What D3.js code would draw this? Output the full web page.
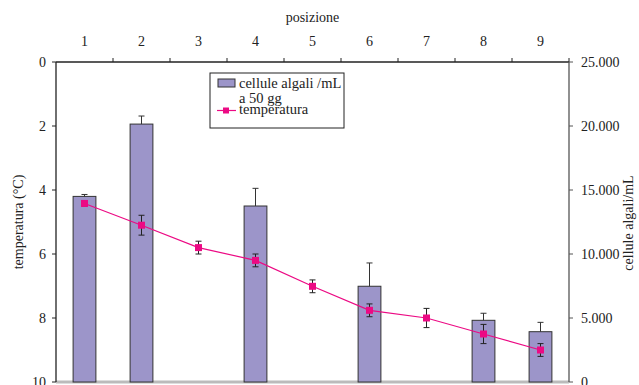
<!DOCTYPE html>
<html>
<head>
<meta charset="utf-8">
<style>
  body { margin: 0; background: #fff; }
</style>
</head>
<body>
<script src="https://cdn.jsdelivr.net/npm/d3@7"></script>
<script>
// data
var positions = [1, 2, 3, 4, 5, 6, 7, 8, 9];
var cellPos = [1, 2, 4, 6, 8, 9];
var cellValues = [14500, 20150, 13750, 7480, 4820, 3930];
var cellErr = [150, 630, 1380, 1820, 550, 730];
var tempValues = [4.42, 5.10, 5.80, 6.20, 7.01, 7.76, 8.0, 8.5, 9.0];
var tempErr = [0.08, 0.31, 0.2, 0.2, 0.2, 0.2, 0.3, 0.3, 0.2];
var tempTicks = [0, 2, 4, 6, 8, 10];
var cellTicks = [0, 5000, 10000, 15000, 20000, 25000];

var W = 639, H = 385;
var margin = {top: 62, left: 56, right: 70, bottom: 3};
var width = W - margin.left - margin.right;
var height = H - margin.top - margin.bottom;

var barColor = "#9c95c9", lineColor = "#ec0a84";
var serif = "'Liberation Serif', 'Times New Roman', 'DejaVu Serif', serif";

var svg = d3.select("body").append("svg")
  .attr("width", W).attr("height", H)
  .attr("font-family", serif).attr("fill", "#222");
var chart = svg.append("g")
  .attr("transform", "translate(" + margin.left + "," + margin.top + ")");

var x = d3.scaleBand().domain(positions).range([0, width]);
var yT = d3.scaleLinear().domain([0, 10]).range([0, height]);
var yC = d3.scaleLinear().domain([0, 25000]).range([height, 0]);

var fmt = function(d) { return d3.format(",")(d).replace(/,/g, "."); };

// bottom line (grey)
chart.append("line")
  .attr("x1", 0).attr("x2", width).attr("y1", height).attr("y2", height)
  .attr("stroke", "#bbb").attr("stroke-width", 3);

// bars
var bw = x.bandwidth() * 0.4;
var bars = chart.append("g");
cellPos.forEach(function(p, i) {
  var cx = x(p) + x.bandwidth() / 2;
  bars.append("rect")
    .attr("x", cx - bw / 2).attr("y", yC(cellValues[i]))
    .attr("width", bw).attr("height", height - yC(cellValues[i]))
    .attr("fill", barColor).attr("stroke", "#333").attr("stroke-width", 1);
  var top = yC(cellValues[i] + cellErr[i]);
  bars.append("line").attr("x1", cx).attr("x2", cx)
    .attr("y1", yC(cellValues[i])).attr("y2", top).attr("stroke", "#333");
  bars.append("line").attr("x1", cx - 3).attr("x2", cx + 3)
    .attr("y1", top).attr("y2", top).attr("stroke", "#333");
});

// temperature line
var cxT = function(d, i) { return x(positions[i]) + x.bandwidth() / 2; };
chart.append("path")
  .datum(tempValues)
  .attr("fill", "none").attr("stroke", lineColor).attr("stroke-width", 1.2)
  .attr("d", d3.line().x(cxT).y(function(d) { return yT(d); }));

var eg = chart.append("g").attr("stroke", "#222").attr("stroke-width", 1);
tempValues.forEach(function(v, i) {
  var cx = cxT(v, i), y1 = yT(v - tempErr[i]), y2 = yT(v + tempErr[i]);
  eg.append("line").attr("x1", cx).attr("x2", cx).attr("y1", y1).attr("y2", y2);
  eg.append("line").attr("x1", cx - 3).attr("x2", cx + 3).attr("y1", y1).attr("y2", y1);
  eg.append("line").attr("x1", cx - 3).attr("x2", cx + 3).attr("y1", y2).attr("y2", y2);
});
chart.selectAll(".pt").data(tempValues).enter().append("rect")
  .attr("x", function(d, i) { return cxT(d, i) - 3.5; })
  .attr("y", function(d) { return yT(d) - 3.5; })
  .attr("width", 7).attr("height", 7).attr("fill", lineColor);

// axes
var axisTop = chart.append("g");
axisTop.append("line").attr("x1", 0).attr("x2", width).attr("y1", 0).attr("y2", 0)
  .attr("stroke", "#222").attr("stroke-width", 1.3);
positions.forEach(function(p) {
  if (p > 1) axisTop.append("line").attr("x1", x(p)).attr("x2", x(p))
    .attr("y1", 0).attr("y2", -4).attr("stroke", "#222");
  axisTop.append("text").attr("x", x(p) + x.bandwidth() / 2).attr("y", -16)
    .attr("text-anchor", "middle").attr("font-size", 14).text(p);
});
axisTop.append("line").attr("x1", width).attr("x2", width).attr("y1", 0).attr("y2", -4).attr("stroke", "#222");

var axisL = chart.append("g");
axisL.append("line").attr("x1", 0).attr("x2", 0).attr("y1", 0).attr("y2", height)
  .attr("stroke", "#222").attr("stroke-width", 1.3);
tempTicks.forEach(function(t) {
  axisL.append("line").attr("x1", -4).attr("x2", 0).attr("y1", yT(t)).attr("y2", yT(t)).attr("stroke", "#222");
  axisL.append("text").attr("x", -10).attr("y", yT(t)).attr("dy", "0.35em")
    .attr("text-anchor", "end").attr("font-size", 14).text(t);
});

var axisR = chart.append("g").attr("transform", "translate(" + width + ",0)");
axisR.append("line").attr("x1", 0).attr("x2", 0).attr("y1", 0).attr("y2", height)
  .attr("stroke", "#555").attr("stroke-width", 1.3);
cellTicks.forEach(function(t) {
  axisR.append("line").attr("x1", 0).attr("x2", 4).attr("y1", yC(t)).attr("y2", yC(t)).attr("stroke", "#555");
  axisR.append("text").attr("x", 12).attr("y", yC(t)).attr("dy", "0.35em")
    .attr("font-size", 14).text(fmt(t));
});

// titles
svg.append("text").attr("x", margin.left + width / 2).attr("y", 22)
  .attr("text-anchor", "middle").attr("font-size", 14).text("posizione");
svg.append("text").attr("transform", "translate(23,222) rotate(-90)")
  .attr("text-anchor", "middle").attr("font-size", 14).text("temperatura (°C)");
svg.append("text").attr("transform", "translate(633,223) rotate(-90)")
  .attr("text-anchor", "middle").attr("font-size", 14).text("cellule algali/mL");

// legend
var lg = svg.append("g").attr("transform", "translate(210,73)");
lg.append("rect").attr("width", 134).attr("height", 55)
  .attr("fill", "#fff").attr("stroke", "#222").attr("stroke-width", 1);
lg.append("rect").attr("x", 8).attr("y", 6).attr("width", 17).attr("height", 8)
  .attr("fill", barColor).attr("stroke", "#333");
lg.append("text").attr("x", 29).attr("y", 15).attr("font-size", 14.5).text("cellule algali /mL");
lg.append("text").attr("x", 29).attr("y", 30).attr("font-size", 14.5).text("a 50 gg");
lg.append("line").attr("x1", 7).attr("x2", 26).attr("y1", 37.5).attr("y2", 37.5)
  .attr("stroke", lineColor).attr("stroke-width", 1.2);
lg.append("rect").attr("x", 13).attr("y", 34.5).attr("width", 6).attr("height", 6).attr("fill", lineColor);
lg.append("text").attr("x", 29).attr("y", 41).attr("font-size", 14.5).text("temperatura");
</script>
</body>
</html>
